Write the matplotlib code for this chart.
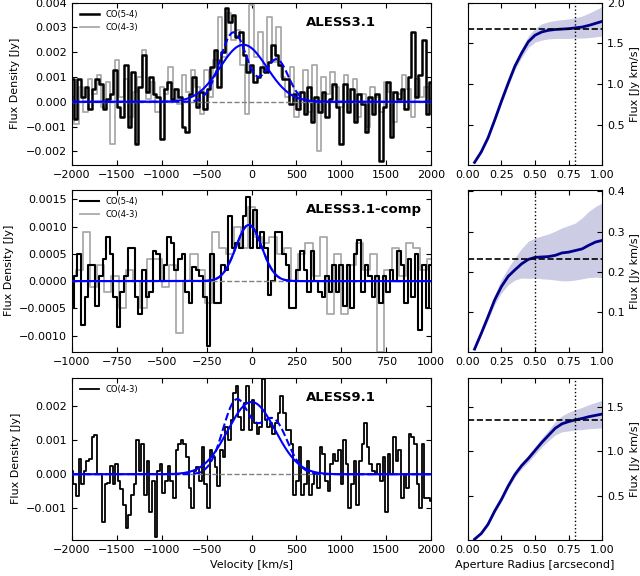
import numpy as np
import matplotlib
matplotlib.use('Agg')
import matplotlib.pyplot as plt

plt.rcParams['font.size'] = 8
plt.rcParams['xtick.direction'] = 'in'
plt.rcParams['ytick.direction'] = 'in'
plt.rcParams['xtick.top'] = True
plt.rcParams['ytick.right'] = True

# --- spectra (mJy per channel) ---
# ALESS3.1, CO(5-4), -2000..2000 km/s
s31_co54 = [0.9, -0.7, 0.9, 0.2, 0.6, -0.3, 0.5, 0.9, 0.7, -0.3,
            0.1, 0.3, 1.3, -0.2, -0.6, 1.5, -1.0, 1.2, -1.7, 0.6,
            1.9, 0.4, 1.0, 0.3, 0.2, -1.5, 0.5, 0.8, 0.1, 0.5,
            0.2, -1.0, -1.2, 0.3, 1.0, -0.2, 0.4, -0.3, 0.5, 1.4,
            2.1, 0.6, 2.0, 3.8, 3.2, 3.5, 2.6, 2.8, 1.9, 1.2,
            1.5, 0.8, 1.0, 1.4, 1.2, 1.6, 2.3, 1.9, 1.5, 0.9,
            0.9, -0.1, 0.3, -0.3, 0.4, -0.5, 0.6, -0.8, 0.2, -0.4,
            0.4, -0.6, 0.1, 0.7, -0.2, -1.7, 0.7, -0.4, 0.5, -0.8,
            0.3, -0.1, -1.2, 0.2, -0.5, 0.3, -2.4, -0.2, 0.8, -1.4,
            0.4, 0.1, 0.5, -0.3, 1.0, 2.8, 0.2, 1.1, 2.5, -0.5, 0.8]
# ALESS3.1, CO(4-3)
s31_co43 = [0.2, -0.9, 0.6, -0.4, 0.9, 0.3, 1.1, -0.2, 0.8, -1.7,
            1.7, 0.2, 0.9, -0.6, 0.4, 1.0, 2.1, 0.1, 0.8, -0.4,
            0.6, 0.3, 1.4, 0.5, -0.1, 1.1, 0.4, 1.3, 0.6, -0.5,
            1.3, 0.2, 1.7, 3.4, 1.8, 3.6, 2.5, 2.9, 1.5, -0.5,
            3.9, 1.8, 2.8, 1.2, 3.4, 1.6, 3.0, 1.0, 0.2, 1.4,
            -0.6, 0.4, 1.3, -0.4, 1.5, -2.0, 1.0, 0.3, 1.2, 0.6,
            -0.2, 1.1, 0.5, 0.9, -0.6, 0.3, -1.0, 0.6, 0.2, -0.4,
            0.8, 0.4, -0.8, 0.3, 1.1, 0.5, -0.6, 0.9, 0.2, 0.6, 0.1]

# ALESS3.1-comp, CO(5-4), -1000..1000 km/s
comp_co54 = [-0.5, 0.1, 0.5, -0.8, -0.3, 0.3, 0.3, -0.45, 0.1, 0.4,
             0.8, 0.5, -0.3, -0.85, -0.2, 0.1, 0.6, 0.6, -0.3, -0.6,
             0.2, -0.3, -0.2, 0.55, 0.5, 0.0, 0.3, 0.8, 0.7, 0.2,
             0.4, 0.5, -0.2, -0.4, 0.25, 0.2, 0.1, -0.3, -1.2,
             0.5, -0.4, -0.4, 0.3, 0.2, 1.2, 0.6, 0.7, 0.6, 1.2,
             1.55, 0.6, 1.3, 0.6, 0.9, 0.6, -0.25, 0.0, 0.9, 0.9,
             0.5, 0.3, -0.5, -0.5, 0.2, 0.55, 0.2, -0.2, 0.55, 0.0,
             -0.2, -0.3, 0.1, -0.2, 0.3, -0.2, 0.3, -0.45, 0.3, -0.5,
             0.5, 0.75, -0.2, 0.3, 0.1, -0.3, 0.1, -0.4, 0.1, -0.2,
             0.2, 0.0, 0.55, 0.3, -0.4, 0.4, -0.3, 0.5, -0.9, 0.3, -0.5, 0.3]
comp_co43 = [0.1, 0.2, 0.9, -0.1, 0.3, -0.2, 0.1, -0.5, 0.2, 0.0,
             -0.5, 0.4, 0.4, -0.1, 0.3, -0.95, 0.0, 0.5, 0.2, -0.4,
             0.9, 0.6, 0.5, 1.0, 0.6, 1.35, 0.8, 0.7, 0.8, 0.5,
             0.6, 0.0, 0.5, 0.7, 0.1, 0.8, -0.6, 0.5, -0.6, 0.3,
             0.7, 0.2, 0.5, -1.3, 0.2, 0.6, 0.1, 0.7, 0.6, 0.2, 0.4]

# ALESS9.1, CO(4-3), -2000..2000 km/s
s91_co43 = [0.1, -0.3, -0.65, 0.45, -0.3, 0.1, 0.4, 0.45, 1.1, 1.15,
            0.0, 0.0, -1.4, -0.3, -0.25, 0.25, -0.3, 0.3, -0.2, -0.45,
            -0.9, -1.6, -1.2, -0.6, -0.3, 1.0, 0.1, 0.9, -0.6, 0.4,
            -1.1, -0.2, -1.85, 0.1, 0.3, -0.55, -0.2, 0.25, -0.2, -0.7,
            0.7, 0.9, 1.0, 0.9, 0.5, -0.4, -1.0, 0.1, 0.2, -0.2,
            0.8, -0.3, -1.0, 0.7, 0.5,
            0.2, -0.35, 0.7, 0.5, 1.4, 1.0, 1.6, 2.4, 2.6, 1.7,
            1.3, 2.1, 2.6, 1.3, 2.2, 1.5, 1.2, 1.4, 2.8, 1.6,
            1.4, 1.5, 1.2, 1.5, 1.8, 2.3, 1.8, 1.3, 1.3, 0.9,
            -0.6, -0.2, 0.8, -0.6, -0.3, 0.4, -0.6, -0.3, 0.0, -0.4,
            0.8, 0.6, -0.2, -0.5, 0.3, 0.6, 0.4, 0.7, -0.3, 1.0,
            0.3, -1.0, -0.3, 0.4, -0.9, 0.4, 0.9, 1.5, 0.8, 0.3,
            0.1, 0.0, 0.3, -0.2, 0.5, -1.1, 0.6, 0.0, 1.1, 0.4,
            0.7, -0.7, 0.0, -0.4, 1.2, 1.1, 0.9, -0.3, -1.0, 0.9,
            -0.7, -0.7, -0.8]

# gaussian fits: (amplitude mJy, centre km/s, sigma km/s)
fit31_single = [(2.3, -90, 260)]
fit31_double = [(2.8, -200, 150), (1.7, 280, 130)]
fitcomp_single = [(1.03, -15, 72)]
fit91_single = [(2.13, 0, 265)]
fit91_double = [(2.15, -170, 150), (1.6, 240, 160)]

# --- curves of growth ---
radius = [0.05, 0.10, 0.15, 0.20, 0.25, 0.30, 0.35, 0.40, 0.45, 0.50,
          0.55, 0.60, 0.65, 0.70, 0.75, 0.80, 0.85, 0.90, 0.95, 1.00]
cog31 = [0.04, 0.17, 0.34, 0.56, 0.79, 1.01, 1.22, 1.38, 1.52, 1.60,
         1.64, 1.66, 1.67, 1.675, 1.68, 1.69, 1.70, 1.72, 1.745, 1.77]
cog31_err = [0.01, 0.015, 0.02, 0.025, 0.03, 0.035, 0.045, 0.055, 0.07, 0.085,
             0.10, 0.105, 0.11, 0.115, 0.12, 0.125, 0.135, 0.15, 0.165, 0.18]
cogcomp = [0.009, 0.048, 0.089, 0.131, 0.164, 0.189, 0.205, 0.220, 0.231, 0.236,
           0.237, 0.238, 0.241, 0.247, 0.249, 0.253, 0.257, 0.266, 0.274, 0.278]
cogcomp_hi = [0.012, 0.053, 0.098, 0.143, 0.182, 0.21, 0.235, 0.258, 0.276, 0.284,
              0.289, 0.294, 0.301, 0.309, 0.315, 0.321, 0.334, 0.35, 0.362, 0.371]
cogcomp_lo = [0.006, 0.043, 0.080, 0.12, 0.148, 0.168, 0.180, 0.185, 0.184, 0.185,
              0.183, 0.182, 0.18, 0.178, 0.178, 0.180, 0.183, 0.186, 0.187, 0.186]
cog91 = [0.013, 0.077, 0.18, 0.33, 0.46, 0.61, 0.74, 0.84, 0.92, 1.01,
         1.10, 1.18, 1.26, 1.31, 1.335, 1.355, 1.37, 1.39, 1.405, 1.42]
cog91_err = [0.005, 0.01, 0.015, 0.02, 0.025, 0.03, 0.03, 0.035, 0.04, 0.045,
             0.05, 0.06, 0.075, 0.09, 0.105, 0.115, 0.125, 0.135, 0.145, 0.155]

total_flux = [1.68, 0.231, 1.35]
aper_radius = [0.80, 0.50, 0.80]


def model(v, comps):
    out = np.zeros_like(v)
    for a, c, s in comps:
        out += a * np.exp(-(v - c) ** 2 / (2 * s ** 2))
    return out / 1000.


def spec_panel(ax, vmax, specs, single, double, name, ylim):
    for flux, col, lw, lab in specs:
        v = np.linspace(-vmax, vmax, len(flux))
        ax.step(v, np.array(flux) / 1000., where='mid', color=col, lw=lw, label=lab,
                zorder=3 if col == 'k' else 2)
    ax.axhline(0, color='gray', ls='--', lw=1, zorder=4)
    vm = np.linspace(-vmax, vmax, 800)
    ax.plot(vm, model(vm, single), color='blue', lw=1.5, zorder=5)
    ax.plot(vm, model(vm, double), color='blue', lw=1.5, ls='--', zorder=5)
    ax.set_xlim(-vmax, vmax)
    ax.set_ylim(ylim)
    ax.set_ylabel('Flux Density [Jy]')
    ax.legend(loc='upper left', frameon=False, fontsize=6, handlelength=2.3)
    ax.text(0.652, 0.875, name, transform=ax.transAxes, fontsize=9.5,
            fontweight='bold', va='center')


def cog_panel(ax, flux, lo, hi, ftot, rap, ylim, yticks):
    ax.fill_between(radius, lo, hi, color='navy', alpha=0.2, lw=0)
    ax.plot(radius, flux, color='darkblue', lw=2)
    ax.axhline(ftot, color='k', ls='--', lw=1.2)
    ax.axvline(rap, color='k', ls=':', lw=1)
    ax.set_xlim(0, 1)
    ax.set_ylim(ylim)
    ax.set_yticks(yticks)
    ax.set_xticks([0, 0.25, 0.5, 0.75, 1.0])
    ax.tick_params(labelleft=False, labelright=True)
    ax.yaxis.set_label_position('right')
    ax.set_ylabel('Flux [Jy km/s]')


fig = plt.figure(figsize=(6.4, 5.76), dpi=100)
bottoms = [0.7135, 0.389, 0.0625]
h = 0.282

ax1 = fig.add_axes([0.1125, bottoms[0], 0.561, h])
spec_panel(ax1, 2000, [(s31_co54, 'k', 1.8, 'CO(5-4)'), (s31_co43, '#aaaaaa', 1.3, 'CO(4-3)')],
           fit31_single, fit31_double, 'ALESS3.1', (-0.00255, 0.004))
ax1.set_xticks(np.arange(-2000, 2001, 500))

ax2 = fig.add_axes([0.1125, bottoms[1], 0.561, h])
spec_panel(ax2, 1000, [(comp_co54, 'k', 1.5, 'CO(5-4)'), (comp_co43, '#aaaaaa', 1.3, 'CO(4-3)')],
           fitcomp_single, fitcomp_single, 'ALESS3.1-comp', (-0.0013, 0.00168))
ax2.set_xticks(np.arange(-1000, 1001, 250))

ax3 = fig.add_axes([0.1125, bottoms[2], 0.561, h])
spec_panel(ax3, 2000, [(s91_co43, 'k', 1.3, 'CO(4-3)')],
           fit91_single, fit91_double, 'ALESS9.1', (-0.00194, 0.00285))
ax3.set_xticks(np.arange(-2000, 2001, 500))
ax3.set_xlabel('Velocity [km/s]')

r1 = fig.add_axes([0.731, bottoms[0], 0.21, h])
cog_panel(r1, cog31, np.array(cog31) - np.array(cog31_err), np.array(cog31) + np.array(cog31_err),
          total_flux[0], aper_radius[0], (0.008, 2.0), [0.5, 1.0, 1.5, 2.0])
r2 = fig.add_axes([0.731, bottoms[1], 0.21, h])
cog_panel(r2, cogcomp, cogcomp_lo, cogcomp_hi,
          total_flux[1], aper_radius[1], (0.002, 0.404), [0.1, 0.2, 0.3, 0.4])
r3 = fig.add_axes([0.731, bottoms[2], 0.21, h])
cog_panel(r3, cog91, np.array(cog91) - np.array(cog91_err), np.array(cog91) + np.array(cog91_err),
          total_flux[2], aper_radius[2], (0.004, 1.83), [0.5, 1.0, 1.5])
r3.set_xlabel('Aperture Radius [arcsecond]')

fig.savefig('out.png', dpi=100)
